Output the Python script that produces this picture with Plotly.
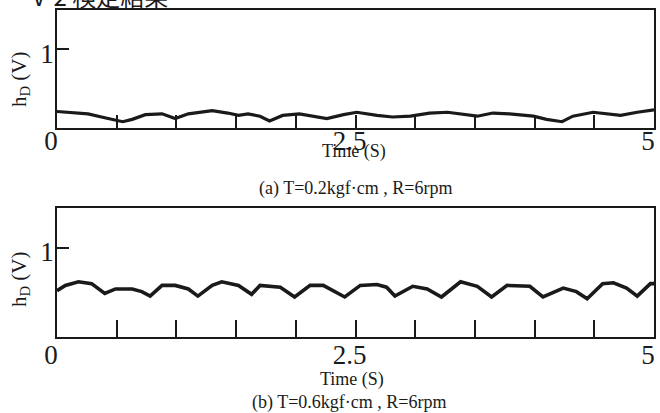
import plotly.graph_objects as go

# ---- data ----
t_a = [0.00, 0.09, 0.26, 0.40, 0.50, 0.55, 0.63, 0.74, 0.88, 0.99, 1.10, 1.30, 1.43, 1.52, 1.60,
       1.70, 1.78, 1.89, 2.03, 2.26, 2.40, 2.51, 2.68, 2.81, 2.96, 3.12, 3.27, 3.38, 3.52,
       3.65, 3.79, 3.99, 4.10, 4.23, 4.32, 4.49, 4.72, 4.86, 5.00]
h_a = [0.21, 0.20, 0.18, 0.13, 0.10, 0.08, 0.11, 0.17, 0.18, 0.12, 0.18, 0.22, 0.19, 0.16, 0.18,
       0.15, 0.09, 0.16, 0.18, 0.12, 0.17, 0.20, 0.16, 0.14, 0.15, 0.19, 0.20, 0.18, 0.15,
       0.19, 0.18, 0.15, 0.11, 0.08, 0.15, 0.20, 0.16, 0.20, 0.23]

t_b = [0.00, 0.07, 0.18, 0.29, 0.40, 0.49, 0.63, 0.71, 0.78, 0.88, 0.99, 1.10, 1.18, 1.30, 1.38,
       1.52, 1.63, 1.70, 1.87, 1.99, 2.12, 2.23, 2.41, 2.54, 2.68, 2.76, 2.83, 2.98, 3.10,
       3.22, 3.38, 3.52, 3.64, 3.77, 3.96, 4.07, 4.24, 4.35, 4.44, 4.57, 4.66, 4.77, 4.86,
       4.97, 5.00]
h_b = [0.52, 0.58, 0.62, 0.60, 0.49, 0.54, 0.54, 0.51, 0.46, 0.58, 0.58, 0.54, 0.46, 0.58, 0.62,
       0.58, 0.48, 0.58, 0.56, 0.45, 0.58, 0.58, 0.45, 0.58, 0.59, 0.56, 0.46, 0.57, 0.54,
       0.45, 0.62, 0.57, 0.45, 0.58, 0.57, 0.45, 0.55, 0.51, 0.43, 0.60, 0.61, 0.55, 0.46,
       0.60, 0.60]

x_tickvals = [0, 0.5, 1, 1.5, 2, 2.5, 3, 3.5, 4, 4.5, 5]
x_ticktext = ["0", "", "", "", "", "2.5", "", "", "", "", "5"]
y_tickvals = [1]
y_ticktext = ["1"]
x_title = "Time (S)"
y_title = "h<sub>D</sub> (V)"
caption_a = "(a) T=0.2kgf\u00b7cm , R=6rpm"
caption_b = "(b) T=0.6kgf\u00b7cm , R=6rpm"
heading = "V-2 検定結果"

W, H = 660, 413
SERIF = "Liberation Serif, Times New Roman, serif"
INK = "#1a1a1a"

def px(yp):
    return 1 - yp / H

fig = go.Figure()
fig.add_trace(go.Scatter(x=t_a, y=h_a, mode="lines", line=dict(color=INK, width=3.2),
                         xaxis="x", yaxis="y", showlegend=False))
fig.add_trace(go.Scatter(x=t_b, y=h_b, mode="lines", line=dict(color=INK, width=3.6),
                         xaxis="x2", yaxis="y2", showlegend=False))

xdom = [57 / W, 654 / W]
common_x = dict(range=[0, 5], showgrid=False, zeroline=False, showline=True, mirror=True,
                linecolor=INK, linewidth=1.8, ticks="inside", tickwidth=1.6, tickcolor=INK,
                tickvals=x_tickvals, ticktext=x_ticktext, ticklabelshift=-6, automargin=False,
                tickfont=dict(family=SERIF, size=27, color=INK), domain=xdom)
common_y = dict(showgrid=False, zeroline=False, showline=True, mirror=True, automargin=False,
                linecolor=INK, linewidth=1.8, ticks="inside", tickwidth=1.6, tickcolor=INK,
                ticklen=12, tickvals=y_tickvals, ticktext=y_ticktext, ticklabelshift=4,
                tickfont=dict(family=SERIF, size=27, color=INK), ticklabelstandoff=-4)

fig.update_layout(
    width=W, height=H, margin=dict(l=0, r=0, t=0, b=0, autoexpand=False),
    paper_bgcolor="white", plot_bgcolor="white",
    xaxis=dict(common_x, anchor="y", ticklen=13, ticklabelstandoff=-12),
    yaxis=dict(common_y, anchor="x", range=[0, 1.5], domain=[px(128), px(10)]),
    xaxis2=dict(common_x, anchor="y2", ticklen=17, ticklabelstandoff=-7),
    yaxis2=dict(common_y, anchor="x2", range=[0, 1.45], domain=[px(337), px(208)]),
)

ann = []
fs = dict(family=SERIF, size=18, color=INK)

def note(text, x, y, font, **kw):
    d = dict(text=text, x=x / W, y=px(y), xref="paper", yref="paper", showarrow=False,
             xanchor="center", yanchor="middle", font=font)
    d.update(kw)
    ann.append(d)

# x titles and captions
note(x_title, 354, 151, fs)
note(caption_a, 355, 188, fs)
note(x_title, 352, 379, fs)
note(caption_b, 349, 402, fs)
# y titles
yfs = dict(family=SERIF, size=21, color=INK)
note(y_title, 20, 79, yfs, textangle=-90)
note(y_title, 20, 279, yfs, textangle=-90)
# cut-off heading at the top
note(heading, 30, -5, dict(family="Noto Sans CJK JP", size=24, color=INK), xanchor="left")
fig.update_layout(annotations=ann)

fig.write_html("out.html", config={"displayModeBar": False},
               post_script="document.body.style.margin='0';")
